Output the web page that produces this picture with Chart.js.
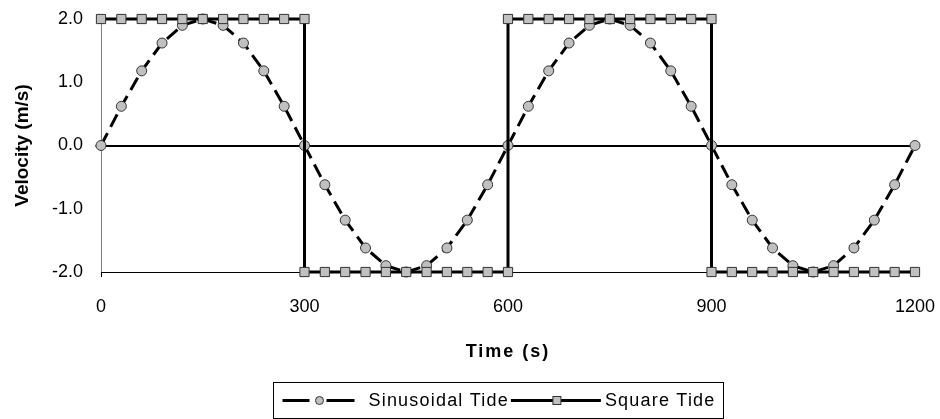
<!DOCTYPE html>
<html>
<head>
<meta charset="utf-8">
<script src="https://cdn.jsdelivr.net/npm/chart.js@4/dist/chart.umd.min.js"></script>
<style>
  html, body { margin: 0; padding: 0; background: #fff; }
  .wrap { width: 940px; height: 419px; position: relative; }
</style>
</head>
<body>
<div class="wrap"><canvas id="myChart"></canvas></div>
<script>
// sinusoidal tide, one point every 30 s
const sineTimes = [0, 30, 60, 90, 120, 150, 180, 210, 240, 270, 300, 330, 360, 390, 420, 450, 480, 510, 540, 570, 600,
  630, 660, 690, 720, 750, 780, 810, 840, 870, 900, 930, 960, 990, 1020, 1050, 1080, 1110, 1140, 1170, 1200];
const sineValues = [0, 0.62, 1.18, 1.62, 1.9, 2.0, 1.9, 1.62, 1.18, 0.62, 0, -0.62, -1.18, -1.62, -1.9, -2.0, -1.9, -1.62, -1.18, -0.62, 0,
  0.62, 1.18, 1.62, 1.9, 2.0, 1.9, 1.62, 1.18, 0.62, 0, -0.62, -1.18, -1.62, -1.9, -2.0, -1.9, -1.62, -1.18, -0.62, 0];

// square tide
const squareTimes = [0, 30, 60, 90, 120, 150, 180, 210, 240, 270, 300,
  300, 330, 360, 390, 420, 450, 480, 510, 540, 570, 600,
  600, 630, 660, 690, 720, 750, 780, 810, 840, 870, 900,
  900, 930, 960, 990, 1020, 1050, 1080, 1110, 1140, 1170, 1200];
const squareValues = [2, 2, 2, 2, 2, 2, 2, 2, 2, 2, 2,
  -2, -2, -2, -2, -2, -2, -2, -2, -2, -2, -2,
  2, 2, 2, 2, 2, 2, 2, 2, 2, 2, 2,
  -2, -2, -2, -2, -2, -2, -2, -2, -2, -2, -2];

const seriesNames = ["Sinusoidal Tide", "Square Tide"];
const xTitle = "Time (s)";
const yTitle = "Velocity (m/s)";

const FONT = "'Liberation Sans', Arial, sans-serif";
const markerFill = "#c0c0c0";
const markerEdge = "#333333";

const toPoints = (xs, ys) => xs.map((x, i) => ({ x: x, y: ys[i] }));

// x title (spaced out) and the boxed legend, drawn by hand
const extras = {
  id: "extras",
  afterDraw(chart) {
    const ctx = chart.ctx;
    const area = chart.chartArea;
    const cx = (area.left + area.right) / 2;
    ctx.save();
    ctx.fillStyle = "#000";
    ctx.textBaseline = "middle";

    ctx.font = "bold 18px " + FONT;
    ctx.letterSpacing = "2px";
    ctx.textAlign = "center";
    ctx.fillText(xTitle, cx, 352);

    ctx.font = "18px " + FONT;
    ctx.letterSpacing = "1.2px";
    ctx.textAlign = "left";
    const w1 = ctx.measureText(seriesNames[0]).width;
    const w2 = ctx.measureText(seriesNames[1]).width;

    const top = 382.5, h = 36, mid = top + h / 2;
    const left = 273.5;
    const s1 = left + 9;           // first line sample
    const t1 = s1 + 86;            // first text
    const s2 = t1 + w1 + 2;        // second line sample
    const t2 = s2 + 94;            // second text
    const right = t2 + w2 + 8;

    ctx.strokeStyle = "#000";
    ctx.lineWidth = 1;
    ctx.strokeRect(left, top, right - left, h);

    // sinusoidal sample: dash, marker, dash
    ctx.lineWidth = 3;
    ctx.beginPath();
    ctx.moveTo(s1, mid); ctx.lineTo(s1 + 27, mid);
    ctx.moveTo(s1 + 44, mid); ctx.lineTo(s1 + 72, mid);
    ctx.stroke();
    ctx.lineWidth = 1;
    ctx.beginPath();
    ctx.arc(s1 + 37, mid, 4, 0, Math.PI * 2);
    ctx.fillStyle = markerFill; ctx.fill();
    ctx.strokeStyle = markerEdge; ctx.stroke();
    ctx.fillStyle = "#000";
    ctx.fillText(seriesNames[0], t1, mid + 1);

    // square sample
    ctx.strokeStyle = "#000";
    ctx.lineWidth = 3;
    ctx.beginPath();
    ctx.moveTo(s2, mid); ctx.lineTo(s2 + 90, mid);
    ctx.stroke();
    ctx.lineWidth = 1;
    ctx.fillStyle = markerFill;
    ctx.fillRect(s2 + 42, mid - 4, 8, 8);
    ctx.strokeStyle = markerEdge;
    ctx.strokeRect(s2 + 42, mid - 4, 8, 8);
    ctx.fillStyle = "#000";
    ctx.fillText(seriesNames[1], t2, mid + 1);
    ctx.restore();
  },
};

const data = {
  datasets: [
    {
      label: seriesNames[0],
      data: toPoints(sineTimes, sineValues),
      borderColor: "#000",
      borderWidth: 3,
      borderDash: [14, 7],
      pointStyle: "circle",
      pointRadius: 5,
      pointBackgroundColor: markerFill,
      pointBorderColor: markerEdge,
      pointBorderWidth: 1,
      tension: 0,
      clip: false,
      order: 1,
    },
    {
      label: seriesNames[1],
      data: toPoints(squareTimes, squareValues),
      borderColor: "#000",
      borderWidth: 3,
      pointStyle: "rect",
      pointRadius: 6.5,
      pointBackgroundColor: markerFill,
      pointBorderColor: markerEdge,
      pointBorderWidth: 1,
      tension: 0,
      clip: false,
      order: 0,
    },
  ],
};

const config = {
  type: "line",
  data,
  options: {
    responsive: true,
    maintainAspectRatio: false,
    devicePixelRatio: 1,
    animation: false,
    layout: { padding: { top: 19, right: 25, bottom: 0, left: 0 } },
    plugins: { legend: { display: false }, tooltip: { enabled: false } },
    scales: {
      x: {
        type: "linear",
        min: 0,
        max: 1200,
        afterFit: (s) => { s.height = 147; s.paddingLeft = 0; s.paddingRight = 0; },
        border: { display: true, color: "#000", width: 1 },
        grid: { drawOnChartArea: false, tickLength: 5, tickColor: "#000" },
        ticks: {
          stepSize: 300,
          color: "#000",
          font: { family: FONT, size: 18 },
          padding: 19,
          maxRotation: 0,
          callback: (v) => String(v),
        },
      },
      y: {
        min: -2,
        max: 2,
        afterFit: (s) => { s.width = 101; s.paddingTop = 0; s.paddingBottom = 0; },
        border: { display: true, color: "#808080", width: 1 },
        grid: {
          color: (c) => (c.tick && c.tick.value === 0 ? "#000" : "rgba(0,0,0,0)"),
          lineWidth: (c) => (c.tick && c.tick.value === 0 ? 2 : 0),
          tickLength: 6,
          tickColor: "#808080",
        },
        ticks: {
          stepSize: 1,
          color: "#000",
          font: { family: FONT, size: 18 },
          padding: 12,
          callback: (v) => v.toFixed(1),
        },
        title: { display: true, text: yTitle, color: "#000", font: { family: FONT, size: 19, weight: "bold" }, padding: { top: 11, bottom: 0 } },
      },
    },
  },
  plugins: [extras],
};

let myChart = new Chart(document.getElementById("myChart"), config);
</script>
</body>
</html>
